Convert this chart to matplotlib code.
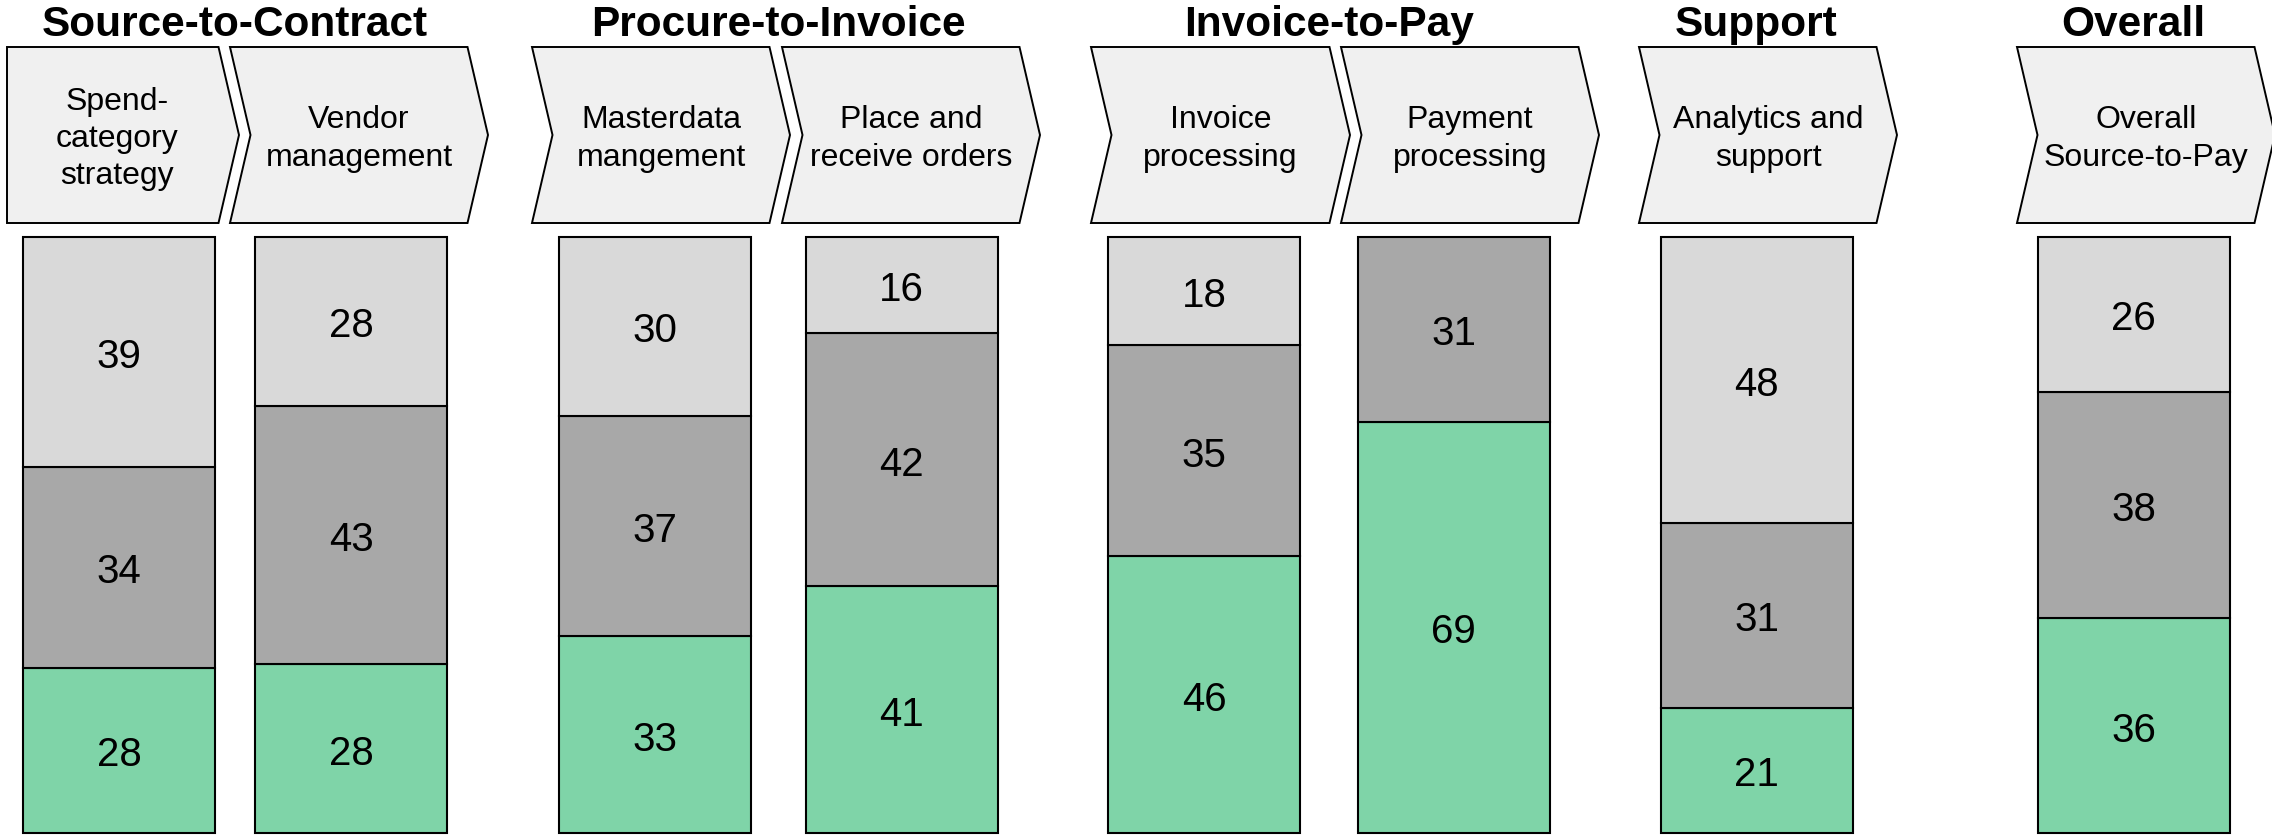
import numpy as np
import matplotlib.pyplot as plt
from matplotlib.patches import Polygon

plt.rcParams['font.family'] = ['Liberation Sans', 'DejaVu Sans']

# dados
grupos = ['Source-to-Contract', 'Procure-to-Invoice', 'Invoice-to-Pay', 'Support', 'Overall']
grupo_idx = [[0, 1], [2, 3], [4, 5], [6], [7]]
etapas = ['Spend-\ncategory\nstrategy', 'Vendor\nmanagement', 'Masterdata\nmangement',
          'Place and\nreceive orders', 'Invoice\nprocessing', 'Payment\nprocessing',
          'Analytics and\nsupport', 'Overall\nSource-to-Pay']
verde = [28, 28, 33, 41, 46, 69, 21, 36]
cinza_escuro = [34, 43, 37, 42, 35, 31, 31, 38]
cinza_claro = [39, 28, 30, 16, 18, 0, 48, 26]

# layout (pixels da figura)
W, H = 2272, 837
bar_x = [119, 351, 655, 901.5, 1204, 1453.5, 1756.5, 2133.5]
bar_w = 192
bar_top, bar_bot = 238, 834
chev_left = [7, 230, 532, 782, 1091, 1341, 1639, 2017]
chev_tip = [239, 488, 790, 1040, 1350, 1599, 1897, 2275]
chev_top, chev_bot, chev_d = 48, 224, 20.5

cores = ['#7FD4A8', '#A8A8A8', '#D9D9D9']

fig = plt.figure(figsize=(W / 100, H / 100), dpi=100)

# barras empilhadas (normalizadas)
ax = fig.add_axes([0, 1 - bar_bot / H, 1, (bar_bot - bar_top) / H])
ax.set_xlim(0, W)
ax.set_ylim(0, 1)
ax.axis('off')

series = np.array([verde, cinza_escuro, cinza_claro], dtype=float)
totais = series.sum(axis=0)
base = np.zeros(len(bar_x))
for s, cor in zip(series, cores):
    frac = s / totais
    mask = frac > 0
    ax.bar(np.array(bar_x)[mask], frac[mask], bottom=base[mask], width=bar_w,
           color=cor, edgecolor='black', linewidth=1.5, clip_on=False)
    for x, f, b, v in zip(bar_x, frac, base, s):
        if v > 0:
            ax.text(x, b + f / 2, f'{int(v)}', ha='center', va='center_baseline', fontsize=29)
    base += frac

# camada de cima: chevrons e títulos
top = fig.add_axes([0, 0, 1, 1])
top.set_xlim(0, W)
top.set_ylim(H, 0)
top.axis('off')

mid = (chev_top + chev_bot) / 2
for i, (L, T) in enumerate(zip(chev_left, chev_tip)):
    R = T - chev_d
    pts = [(L, chev_top), (R, chev_top), (T, mid), (R, chev_bot), (L, chev_bot)]
    if i > 0:
        pts.append((L + chev_d, mid))
    top.add_patch(Polygon(pts, closed=True, facecolor='#F0F0F0', edgecolor='black', linewidth=1.4))
    cx = (L + T) / 2 if i > 0 else (L + T) / 2 - 6
    top.text(cx, mid + 3, etapas[i], ha='center', va='center', fontsize=23, linespacing=1.32)

for nome, idx in zip(grupos, grupo_idx):
    xs = [bar_x[j] for j in idx]
    cx = (min(xs) + max(xs)) / 2
    top.text(cx, 36, nome, ha='center', va='baseline', fontsize=30.5, fontweight='bold')

fig.savefig('out.png', dpi=100)
